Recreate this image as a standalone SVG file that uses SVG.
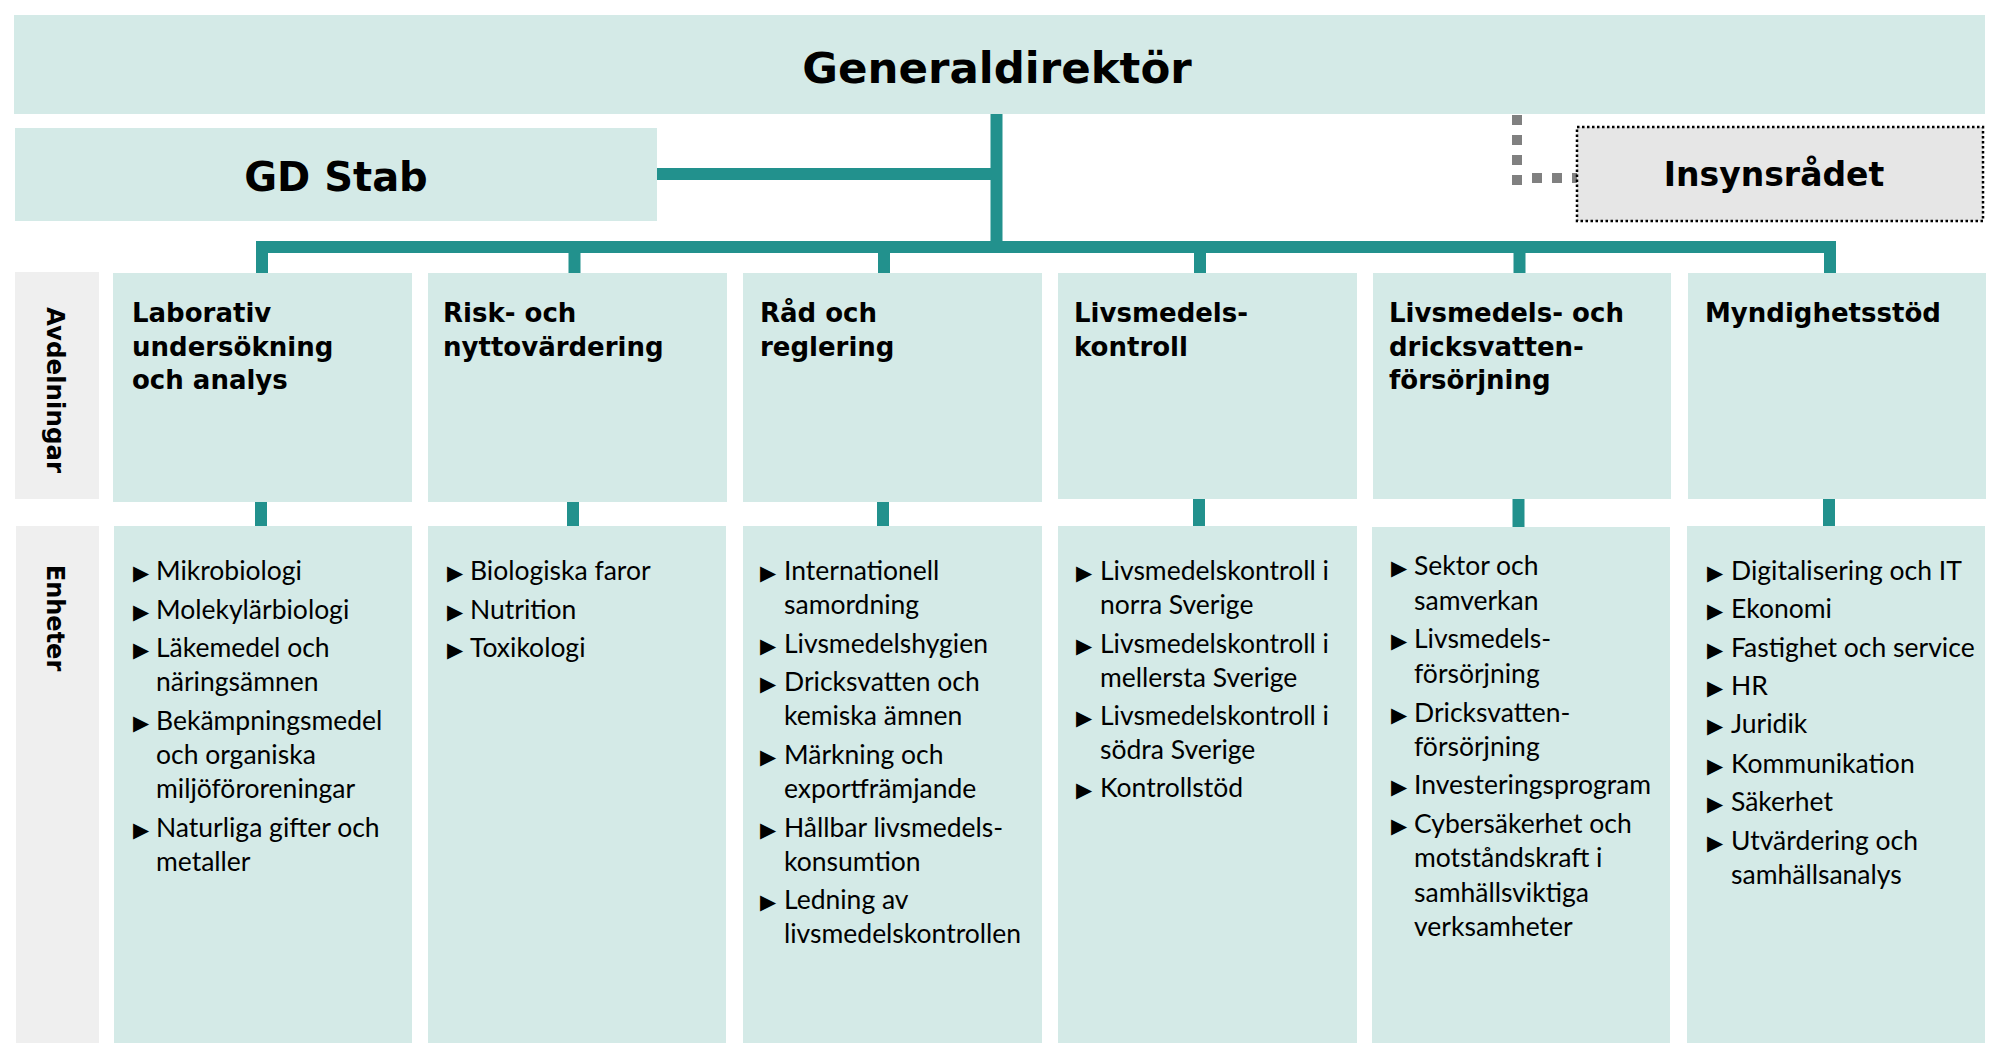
<svg xmlns="http://www.w3.org/2000/svg" width="2000" height="1062" viewBox="0 0 2000 1062">
<style>
.box{fill:#d4eae7}
.lbl{fill:#efefef}
.conn{stroke:#22918d;stroke-width:12;fill:none;stroke-linejoin:miter;stroke-linecap:butt}
.dot{stroke:#808080;stroke-width:10;fill:none;stroke-dasharray:10 10}
.h{font-family:'DejaVu Sans',sans-serif;font-weight:700;fill:#000}
.d{font-size:26px}
.u{font-family:Lato,'Liberation Sans',sans-serif;font-size:26.5px;fill:#000}
.b{font-family:'DejaVu Sans',sans-serif;font-size:21px;fill:#000}
</style>
<rect width="2000" height="1062" fill="#fff"/>
<g id="connectors">
<path class="conn" d="M996.5,114 V247"/>
<path class="conn" d="M657,174 H996.5"/>
<path class="conn" d="M262,273 V247 H1830 V273"/>
<path class="conn" d="M574.5,247 V273 M884,247 V273 M1200,247 V273 M1519.5,247 V273"/>
<path class="conn" d="M261,502 V526 M573,502 V526 M883,502 V526 M1199,499 V526 M1518.5,499 V527 M1829,499 V526"/>
<path class="dot" d="M1517,115 V185"/>
<path class="dot" d="M1532,178 H1577"/>
</g>
<g id="generaldirektor">
<rect class="box" x="14" y="15" width="1971" height="99"/>
<text class="h" x="997" y="83" font-size="43.5" text-anchor="middle">Generaldirektör</text>
</g>
<g id="gdstab">
<rect class="box" x="15" y="128" width="642" height="93"/>
<text class="h" x="336" y="191" font-size="40" text-anchor="middle">GD Stab</text>
</g>
<g id="insynsradet">
<rect x="1577" y="127" width="406" height="94" fill="#e6e6e6" stroke="#000" stroke-width="2.5" stroke-dasharray="2.5 2.5"/>
<text class="h" x="1774" y="186" font-size="33" text-anchor="middle">Insynsrådet</text>
</g>
<g id="label-avdelningar">
<rect class="lbl" x="15" y="272" width="84" height="227"/>
<text class="h" font-size="24.5" text-anchor="middle" transform="translate(47,390) rotate(90)">Avdelningar</text>
</g>
<g id="label-enheter">
<rect class="lbl" x="16" y="526" width="83" height="517"/>
<text class="h" font-size="24" text-anchor="middle" transform="translate(47,618) rotate(90)">Enheter</text>
</g>
<g id="avd-laborativ">
<rect class="box" x="113" y="273" width="299" height="229"/>
<text class="h d" x="132" y="322">Laborativ<tspan x="132" dy="34">undersökning</tspan><tspan x="132" dy="33">och analys</tspan></text>
</g>
<g id="avd-risk">
<rect class="box" x="428" y="273" width="299" height="229"/>
<text class="h d" x="443" y="322">Risk- och<tspan x="443" dy="34">nyttovärdering</tspan></text>
</g>
<g id="avd-rad">
<rect class="box" x="743" y="273" width="299" height="229"/>
<text class="h d" x="760" y="322">Råd och<tspan x="760" dy="34">reglering</tspan></text>
</g>
<g id="avd-kontroll">
<rect class="box" x="1058" y="273" width="299" height="226"/>
<text class="h d" x="1074" y="322">Livsmedels-<tspan x="1074" dy="34">kontroll</tspan></text>
</g>
<g id="avd-forsorjning">
<rect class="box" x="1373" y="273" width="298" height="226"/>
<text class="h d" x="1389" y="322">Livsmedels- och<tspan x="1389" dy="34">dricksvatten-</tspan><tspan x="1389" dy="33">försörjning</tspan></text>
</g>
<g id="avd-myndighetsstod">
<rect class="box" x="1688" y="273" width="298" height="226"/>
<text class="h d" x="1705" y="322">Myndighetsstöd</text>
</g>
<g id="enh-laborativ">
<rect class="box" x="114" y="526" width="298" height="517"/>
<text class="b" x="133" y="580">▶</text><text class="u" x="156" y="580">Mikrobiologi</text>
<text class="b" x="133" y="619">▶</text><text class="u" x="156" y="619">Molekylärbiologi</text>
<text class="b" x="133" y="657">▶</text><text class="u" x="156" y="657">Läkemedel och</text>
<text class="u" x="156" y="691">näringsämnen</text>
<text class="b" x="133" y="730">▶</text><text class="u" x="156" y="730">Bekämpningsmedel</text>
<text class="u" x="156" y="764">och organiska</text>
<text class="u" x="156" y="798">miljöföroreningar</text>
<text class="b" x="133" y="837">▶</text><text class="u" x="156" y="837">Naturliga gifter och</text>
<text class="u" x="156" y="871">metaller</text>
</g>
<g id="enh-risk">
<rect class="box" x="428" y="526" width="298" height="517"/>
<text class="b" x="447" y="580">▶</text><text class="u" x="470" y="580">Biologiska faror</text>
<text class="b" x="447" y="619">▶</text><text class="u" x="470" y="619">Nutrition</text>
<text class="b" x="447" y="657">▶</text><text class="u" x="470" y="657">Toxikologi</text>
</g>
<g id="enh-rad">
<rect class="box" x="743" y="526" width="299" height="517"/>
<text class="b" x="760" y="580">▶</text><text class="u" x="784" y="580">Internationell</text>
<text class="u" x="784" y="614">samordning</text>
<text class="b" x="760" y="653">▶</text><text class="u" x="784" y="653">Livsmedelshygien</text>
<text class="b" x="760" y="691">▶</text><text class="u" x="784" y="691">Dricksvatten och</text>
<text class="u" x="784" y="725">kemiska ämnen</text>
<text class="b" x="760" y="764">▶</text><text class="u" x="784" y="764">Märkning och</text>
<text class="u" x="784" y="798">exportfrämjande</text>
<text class="b" x="760" y="837">▶</text><text class="u" x="784" y="837">Hållbar livsmedels-</text>
<text class="u" x="784" y="871">konsumtion</text>
<text class="b" x="760" y="909">▶</text><text class="u" x="784" y="909">Ledning av</text>
<text class="u" x="784" y="943">livsmedelskontrollen</text>
</g>
<g id="enh-kontroll">
<rect class="box" x="1058" y="526" width="299" height="517"/>
<text class="b" x="1076" y="580">▶</text><text class="u" x="1100" y="580">Livsmedelskontroll i</text>
<text class="u" x="1100" y="614">norra Sverige</text>
<text class="b" x="1076" y="653">▶</text><text class="u" x="1100" y="653">Livsmedelskontroll i</text>
<text class="u" x="1100" y="687">mellersta Sverige</text>
<text class="b" x="1076" y="725">▶</text><text class="u" x="1100" y="725">Livsmedelskontroll i</text>
<text class="u" x="1100" y="759">södra Sverige</text>
<text class="b" x="1076" y="797">▶</text><text class="u" x="1100" y="797">Kontrollstöd</text>
</g>
<g id="enh-forsorjning">
<rect class="box" x="1372" y="527" width="298" height="516"/>
<text class="b" x="1391" y="575">▶</text><text class="u" x="1414" y="575">Sektor och</text>
<text class="u" x="1414" y="610">samverkan</text>
<text class="b" x="1391" y="648">▶</text><text class="u" x="1414" y="648">Livsmedels-</text>
<text class="u" x="1414" y="683">försörjning</text>
<text class="b" x="1391" y="722">▶</text><text class="u" x="1414" y="722">Dricksvatten-</text>
<text class="u" x="1414" y="756">försörjning</text>
<text class="b" x="1391" y="794">▶</text><text class="u" x="1414" y="794">Investeringsprogram</text>
<text class="b" x="1391" y="833">▶</text><text class="u" x="1414" y="833">Cybersäkerhet och</text>
<text class="u" x="1414" y="867">motståndskraft i</text>
<text class="u" x="1414" y="902">samhällsviktiga</text>
<text class="u" x="1414" y="936">verksamheter</text>
</g>
<g id="enh-myndighetsstod">
<rect class="box" x="1687" y="526" width="298" height="517"/>
<text class="b" x="1707" y="580">▶</text><text class="u" x="1731" y="580">Digitalisering och IT</text>
<text class="b" x="1707" y="618">▶</text><text class="u" x="1731" y="618">Ekonomi</text>
<text class="b" x="1707" y="657">▶</text><text class="u" x="1731" y="657">Fastighet och service</text>
<text class="b" x="1707" y="695">▶</text><text class="u" x="1731" y="695">HR</text>
<text class="b" x="1707" y="733">▶</text><text class="u" x="1731" y="733">Juridik</text>
<text class="b" x="1707" y="773">▶</text><text class="u" x="1731" y="773">Kommunikation</text>
<text class="b" x="1707" y="811">▶</text><text class="u" x="1731" y="811">Säkerhet</text>
<text class="b" x="1707" y="850">▶</text><text class="u" x="1731" y="850">Utvärdering och</text>
<text class="u" x="1731" y="884">samhällsanalys</text>
</g>
</svg>
